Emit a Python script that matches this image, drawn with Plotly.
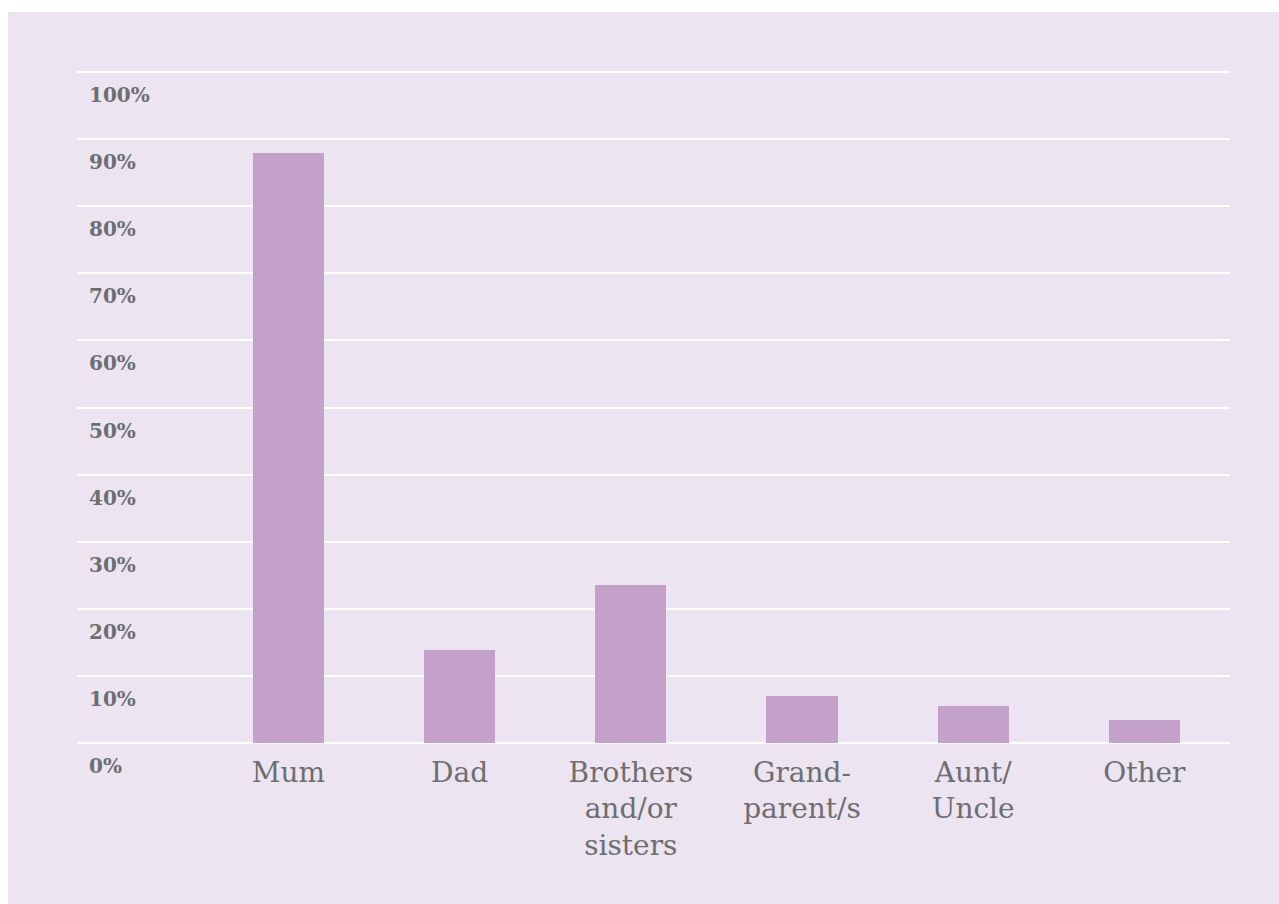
import plotly.graph_objects as go

categories = ["Mum", "Dad", "Brothers<br>and/or<br>sisters", "Grand-<br>parent/s", "Aunt/<br>Uncle", "Other"]
values = [88, 13.9, 23.5, 7.0, 5.5, 3.4]
y_ticks = [0, 10, 20, 30, 40, 50, 60, 70, 80, 90, 100]
y_tick_labels = [f"{v}%" for v in y_ticks]

BG = "#ECE4F0"
BAR = "#C3A1C9"
TXT = "#6D6E71"

fig = go.Figure(go.Bar(
    x=list(range(len(categories))),
    y=values,
    width=0.415,
    marker=dict(color=BAR, line=dict(width=0)),
    hoverinfo="skip",
))

W, H = 1279, 904
L, R, T, B = 77, 49, 52, 159
pw, ph = W - L - R, H - T - B

fig.add_shape(type="rect", xref="paper", yref="paper", layer="below",
              x0=(8 - L) / pw, x1=(W - L + 20) / pw,
              y0=-(B + 20) / ph, y1=(H - B - 12) / ph,
              fillcolor=BG, line=dict(width=0))

for v, lab in zip(y_ticks, y_tick_labels):
    fig.add_annotation(
        x=0, xref="paper", y=v, yref="y",
        text=lab, showarrow=False,
        xanchor="left", yanchor="middle",
        xshift=10, yshift=-23,
        font=dict(family="DejaVu Serif", size=20, color=TXT, weight="bold"),
    )

fig.update_layout(
    width=W, height=H,
    margin=dict(l=L, r=R, t=T, b=B),
    paper_bgcolor="white",
    plot_bgcolor="rgba(0,0,0,0)",
    showlegend=False,
    bargap=0,
    xaxis=dict(
        range=[-1.235, 5.5],
        tickmode="array",
        tickvals=list(range(len(categories))),
        ticktext=categories,
        showgrid=False, zeroline=False, showline=False,
        ticks="",
        tickfont=dict(family="DejaVu Serif", size=28, color=TXT),
        ticklabelstandoff=8,
    ),
    yaxis=dict(
        range=[-0.3, 103],
        tickmode="array",
        tickvals=y_ticks,
        showticklabels=False,
        showgrid=True, gridcolor="white", gridwidth=2,
        zeroline=False, showline=False,
        ticks="",
    ),
)

fig.write_html(
    "out.html",
    config={"displayModeBar": False},
    post_script="document.body.style.margin='0';document.body.style.overflow='hidden';",
)
